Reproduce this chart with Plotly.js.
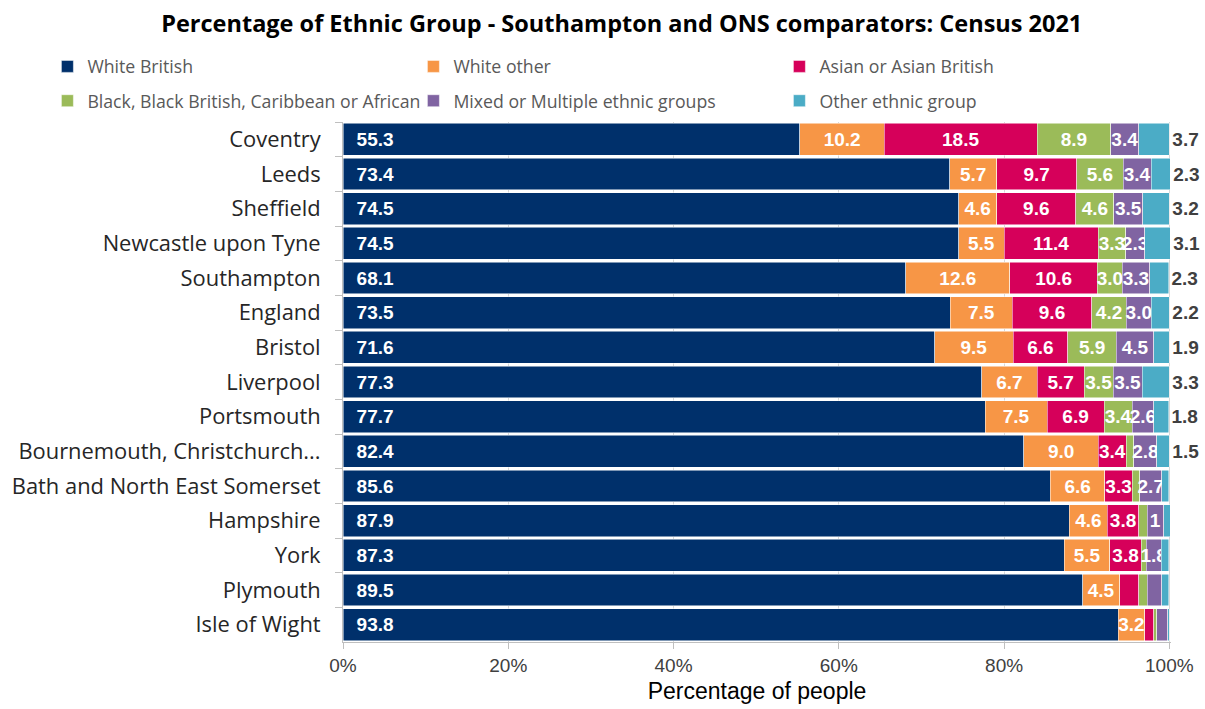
<!DOCTYPE html>
<html>
<head>
<meta charset="utf-8">
<script src="https://cdn.plot.ly/plotly-3.0.1.min.js"></script>
<style>html,body{margin:0;padding:0;background:#fff;}#chart{width:1205px;height:709px;}</style>
</head>
<body>
<div id="chart"></div>
<script>
const places = ["Coventry","Leeds","Sheffield","Newcastle upon Tyne","Southampton","England","Bristol","Liverpool","Portsmouth","Bournemouth, Christchurch...","Bath and North East Somerset","Hampshire","York","Plymouth","Isle of Wight"];

const whiteBritish = [55.3,73.4,74.5,74.5,68.1,73.5,71.6,77.3,77.7,82.4,85.6,87.9,87.3,89.5,93.8];
const whiteOther   = [10.2,5.7,4.6,5.5,12.6,7.5,9.5,6.7,7.5,9.0,6.6,4.6,5.5,4.5,3.2];
const asian        = [18.5,9.7,9.6,11.4,10.6,9.6,6.6,5.7,6.9,3.4,3.3,3.8,3.8,2.3,1.1];
const black        = [8.9,5.6,4.6,3.3,3.0,4.2,5.9,3.5,3.4,0.9,0.9,1.0,0.6,1.0,0.4];
const mixed        = [3.4,3.4,3.5,2.3,3.3,3.0,4.5,3.5,2.6,2.8,2.7,2.0,1.8,1.8,1.3];
const other        = [3.7,2.3,3.2,3.1,2.3,2.2,1.9,3.3,1.8,1.5,0.8,0.8,0.9,0.8,0.2];

// Data labels as shown in the chart ("" = no label shown)
const whiteBritishLabels = ["55.3","73.4","74.5","74.5","68.1","73.5","71.6","77.3","77.7","82.4","85.6","87.9","87.3","89.5","93.8"];
const whiteOtherLabels   = ["10.2","5.7","4.6","5.5","12.6","7.5","9.5","6.7","7.5","9.0","6.6","4.6","5.5","4.5","3.2"];
const asianLabels        = ["18.5","9.7","9.6","11.4","10.6","9.6","6.6","5.7","6.9","3.4","3.3","3.8","3.8","",""];
const blackLabels        = ["8.9","5.6","4.6","3.3","3.0","4.2","5.9","3.5","3.4","","","","","",""];
const mixedLabels        = ["3.4","3.4","3.5","2.3","3.3","3.0","4.5","3.5","2.6","2.8","2.7","1","1.8","",""];
const otherLabels        = ["3.7","2.3","3.2","3.1","2.3","2.2","1.9","3.3","1.8","1.5","","","","",""];

const seriesNames = ["White British","White other","Asian or Asian British","Black, Black British, Caribbean or African","Mixed or Multiple ethnic groups","Other ethnic group"];
const seriesColors = ["#00306B","#F79646","#D6005A","#9BBB59","#8064A2","#4BACC6"];

const CAL = "'Open Sans', Lato, sans-serif";
const ARI = "'Liberation Sans', Arial, sans-serif";
const allVals = [whiteBritish, whiteOther, asian, black, mixed, other];
const allLabels = [whiteBritishLabels, whiteOtherLabels, asianLabels, blackLabels, mixedLabels, otherLabels];

const traces = allVals.map((vals, i) => {
  const t = {
    type: 'bar',
    orientation: 'h',
    name: seriesNames[i],
    x: vals,
    y: places,
    text: allLabels[i],
    texttemplate: i === 0 ? '\u00a0\u00a0%{text}' : '%{text}',
    textangle: 0,
    hoverinfo: 'name+x',
    marker: {color: seriesColors[i], line: {color: '#ffffff', width: 0.5}},
    textfont: {family: ARI, size: 19, color: '#ffffff', weight: 'bold'},
    insidetextfont: {family: ARI, size: 19, color: '#ffffff', weight: 'bold'},
    textposition: 'inside',
    insidetextanchor: 'middle',
    constraintext: 'none',
    cliponaxis: false,
    legend: i < 3 ? 'legend' : 'legend2'
  };
  if (i === 0) { t.insidetextanchor = 'start'; }
  if (i === 5) {
    t.textposition = 'outside';
    t.outsidetextfont = {family: ARI, size: 20, color: '#404040', weight: 'bold'};
  }
  return t;
});

const legendBase = {
  orientation: 'h',
  traceorder: 'normal',
  xref: 'paper',
  xanchor: 'left',
  yanchor: 'middle',
  x: -0.357,
  entrywidth: 321,
  entrywidthmode: 'pixels',
  font: {family: CAL, size: 17.7, color: '#595959'},
  bgcolor: 'rgba(0,0,0,0)',
  itemclick: false,
  itemdoubleclick: false
};

const layout = {
  width: 1205,
  height: 709,
  margin: {l: 343, r: 34, t: 122, b: 67},
  paper_bgcolor: '#ffffff',
  plot_bgcolor: '#ffffff',
  barmode: 'stack',
  bargap: 0.08,
  uniformtext: {mode: 'show', minsize: 19},
  title: {
    text: 'Percentage of Ethnic Group - Southampton and ONS comparators: Census 2021',
    x: 0.516, xanchor: 'center', xref: 'container',
    y: 0.966, yanchor: 'middle', yref: 'container',
    font: {family: CAL, size: 23.5, color: '#000000', weight: 'bold'}
  },
  showlegend: true,
  legend: Object.assign({}, legendBase, {y: 1.106}),
  legend2: Object.assign({}, legendBase, {y: 1.040}),
  xaxis: {
    range: [0, 100.2],
    tickvals: [0, 20, 40, 60, 80, 100],
    ticktext: ['0%', '20%', '40%', '60%', '80%', '100%'],
    ticks: 'outside',
    ticklen: 6,
    tickcolor: '#bfbfbf',
    showline: true,
    linecolor: '#bfbfbf',
    showgrid: true,
    gridcolor: '#d9d9d9',
    zeroline: false,
    automargin: false,
    tickfont: {family: ARI, size: 19, color: '#404040'},
    title: {text: 'Percentage of people', font: {family: ARI, size: 23, color: '#000000'}, standoff: 8}
  },
  yaxis: {
    autorange: 'reversed',
    type: 'category',
    showline: true,
    linecolor: '#bfbfbf',
    showgrid: false,
    ticks: 'outside',
    tickson: 'boundaries',
    ticklen: 7,
    tickcolor: '#bfbfbf',
    automargin: false,
    ticklabelstandoff: 17,
    tickfont: {family: CAL, size: 21.9, color: '#262626'}
  }
};

Plotly.newPlot('chart', traces, layout, {displayModeBar: false, staticPlot: true});
</script>
</body>
</html>
